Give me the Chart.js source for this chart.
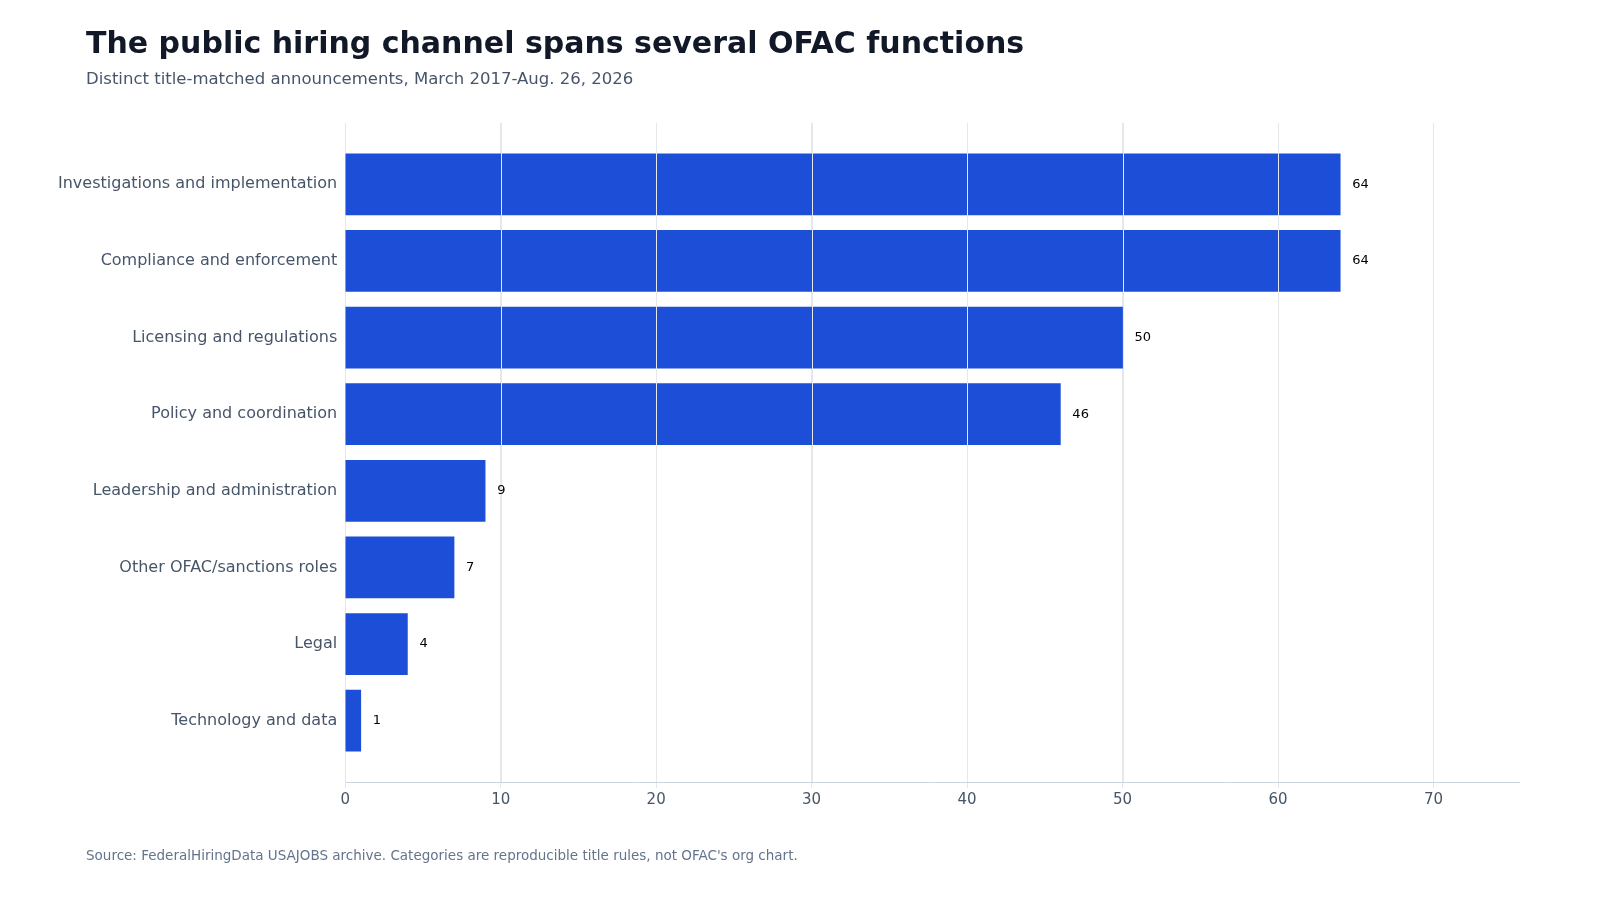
<!DOCTYPE html>
<html>
<head>
<meta charset="utf-8">
<script src="https://cdn.jsdelivr.net/npm/chart.js@4"></script>
<style>
  body { margin: 0; background: #fff; font-family: "DejaVu Sans", sans-serif; }
  #wrap { position: relative; width: 1600px; height: 900px; }
  #title { position: absolute; left: 86px; top: 25px; font-size: 30px; font-weight: bold; color: #111827; }
  #sub { position: absolute; left: 86px; top: 69px; font-size: 16.5px; color: #475569; }
  #src { position: absolute; left: 86px; top: 847px; font-size: 13.5px; color: #64748b; }
  canvas { position: absolute; left: 0; top: 0; }
</style>
</head>
<body>
<div id="wrap">
  <canvas id="chart" width="1600" height="900"></canvas>
  <div id="title">The public hiring channel spans several OFAC functions</div>
  <div id="sub">Distinct title-matched announcements, March 2017-Aug. 26, 2026</div>
  <div id="src">Source: FederalHiringData USAJOBS archive. Categories are reproducible title rules, not OFAC's org chart.</div>
</div>
<script>
var categories = ['Investigations and implementation', 'Compliance and enforcement', 'Licensing and regulations',
  'Policy and coordination', 'Leadership and administration', 'Other OFAC/sanctions roles', 'Legal', 'Technology and data'];
var counts = [64, 64, 50, 46, 9, 7, 4, 1];
var xTicks = [0, 10, 20, 30, 40, 50, 60, 70];

// grid lines over the bars plus value labels at bar ends
var overlay = {
  id: 'overlay',
  afterDatasetsDraw(chart) {
    var ctx = chart.ctx;
    var area = chart.chartArea;
    var xs = chart.scales.x;
    ctx.save();
    ctx.strokeStyle = '#e5e7eb';
    ctx.lineWidth = 1;
    xs.ticks.forEach(function (t) {
      if (t.value === 0) return;
      var px = Math.round(xs.getPixelForValue(t.value)) + 0.5;
      ctx.beginPath();
      ctx.moveTo(px, area.top);
      ctx.lineTo(px, area.bottom);
      ctx.stroke();
    });
    ctx.font = '13px "DejaVu Sans"';
    ctx.fillStyle = '#000';
    ctx.textBaseline = 'middle';
    chart.getDatasetMeta(0).data.forEach(function (bar, i) {
      ctx.fillText(String(counts[i]), bar.x + 12, bar.y);
    });
    ctx.restore();
  }
};

var ctx = document.getElementById('chart').getContext('2d');
new Chart(ctx, {
  type: 'bar',
  data: {
    datasets: [{
      data: counts.map(function (v, i) { return { x: v, y: i }; }),
      backgroundColor: '#1d4ed8',
      barThickness: 61
    }]
  },
  options: {
    indexAxis: 'y',
    responsive: false,
    animation: false,
    layout: { padding: { left: 55, right: 81, top: 123, bottom: 88 } },
    plugins: { legend: { display: false }, tooltip: { enabled: false } },
    scales: {
      x: {
        type: 'linear', min: 0, max: 75.5,
        afterBuildTicks: function (s) { s.ticks = xTicks.map(function (v) { return { value: v }; }); },
        grid: { color: '#e5e7eb', tickLength: 6 },
        border: { color: '#cbd5e1' },
        ticks: { color: '#475569', font: { size: 15, family: 'DejaVu Sans' } }
      },
      y: {
        type: 'linear', min: -0.8, max: 7.8, reverse: true, offset: false,
        afterBuildTicks: function (s) { s.ticks = categories.map(function (c, i) { return { value: i }; }); },
        grid: { display: false, tickLength: 5 },
        border: { color: '#e5e7eb' },
        ticks: {
          color: '#475569', font: { size: 16, family: 'DejaVu Sans' },
          callback: function (v) { return categories[v] || ''; }
        }
      }
    }
  },
  plugins: [overlay]
});
</script>
</body>
</html>
